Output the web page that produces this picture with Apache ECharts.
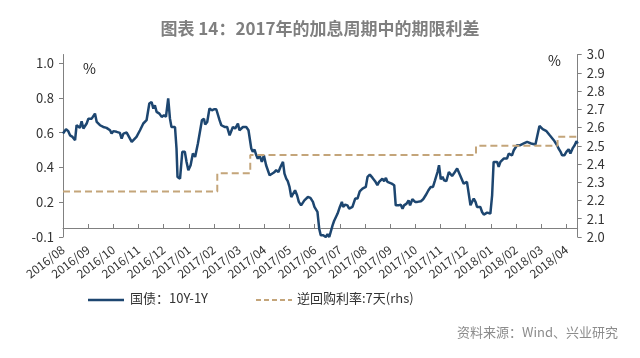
<!DOCTYPE html>
<html><head><meta charset="utf-8">
<script src="https://cdn.jsdelivr.net/npm/echarts@6/dist/echarts.min.js"></script>
<style>html,body{margin:0;padding:0;background:#fff}#c{width:640px;height:358px}</style>
</head><body><div id="c"></div>
<script>
// Month tick labels (x positions are month indices, 0 = 2016/08)
const monthLabels = ['2016/08','2016/09','2016/10','2016/11','2016/12','2017/01','2017/02','2017/03','2017/04','2017/05','2017/06','2017/07','2017/08','2017/09','2017/10','2017/11','2017/12','2018/01','2018/02','2018/03','2018/04'];
const monthTicks = monthLabels.map((_, i) => i);

// 国债 10Y-1Y spread (%), left axis
const spreadX = [0,0.12,0.21,0.28,0.38,0.48,0.54,0.61,0.67,0.74,0.81,0.87,0.94,1.01,1.07,1.14,1.20,1.27,1.34,1.47,1.60,1.73,1.87,1.93,2.00,2.13,2.26,2.33,2.40,2.53,2.59,2.73,2.79,2.92,3.06,3.19,3.32,3.43,3.52,3.59,3.65,3.72,3.83,3.92,4.01,4.09,4.12,4.18,4.25,4.31,4.45,4.51,4.55,4.65,4.74,4.84,4.91,4.98,
5.07,5.16,5.25,5.36,5.43,5.52,5.60,5.65,5.73,5.82,5.92,6.00,6.09,6.16,6.22,6.29,6.35,6.42,6.52,6.62,6.68,6.75,6.84,6.95,7.01,7.08,7.15,7.28,7.37,7.48,7.54,7.61,7.68,7.74,7.81,7.90,7.98,8.07,8.14,8.21,8.27,8.38,8.47,8.56,8.64,8.74,8.80,8.87,8.93,9.00,9.07,9.13,9.22,9.30,9.37,9.46,9.53,9.59,9.73,9.83,9.93,9.99,10.06,
10.11,10.18,10.24,10.34,10.44,10.51,10.58,10.64,10.71,10.77,10.84,10.91,11.00,11.08,11.13,11.21,11.30,11.37,11.50,11.61,11.70,11.79,11.90,12.03,12.10,12.19,12.30,12.40,12.49,12.56,12.63,12.69,12.76,12.83,12.89,12.96,13.06,13.16,13.22,13.33,13.42,13.49,13.55,13.65,13.73,13.79,13.88,13.99,14.08,14.22,14.31,14.41,14.52,14.61,14.70,14.78,14.88,14.94,15.01,15.08,15.14,
15.23,15.33,15.39,15.46,15.53,15.59,15.66,15.72,15.79,15.86,15.92,15.99,16.05,16.12,16.19,16.25,16.32,16.39,16.45,16.52,16.58,16.65,16.72,16.78,16.85,16.98,17.05,17.11,17.18,17.25,17.31,17.38,17.44,17.51,17.58,17.64,17.71,17.78,17.84,17.91,17.97,18.04,18.17,18.31,18.44,18.60,18.77,18.83,18.93,18.99,19.06,19.13,19.21,19.26,19.34,19.39,19.50,19.56,19.63,19.69,19.76,19.83,19.92,20.00,20.09,20.16,20.20,20.26,20.33,20.40,20.45];
const spreadY = [0.595,0.620,0.609,0.585,0.576,0.557,0.643,0.653,0.628,0.666,0.624,0.614,0.653,0.681,0.672,0.681,0.691,0.710,0.662,0.643,0.633,0.628,0.614,0.595,0.609,0.605,0.599,0.566,0.595,0.601,0.585,0.547,0.557,0.576,0.614,0.653,0.672,0.768,0.777,0.739,0.758,0.720,0.710,0.691,0.701,0.691,0.681,0.797,0.681,0.633,0.633,0.509,0.346,0.336,0.490,0.490,0.432,0.384,
0.413,0.480,0.461,0.538,0.538,0.672,0.681,0.647,0.662,0.739,0.729,0.735,0.735,0.729,0.672,0.643,0.643,0.633,0.633,0.585,0.585,0.633,0.624,0.653,0.614,0.624,0.633,0.633,0.614,0.509,0.490,0.503,0.470,0.451,0.470,0.432,0.470,0.413,0.403,0.355,0.365,0.371,0.384,0.374,0.403,0.432,0.365,0.336,0.321,0.288,0.230,0.221,0.269,0.240,0.202,0.182,0.182,0.211,0.230,0.225,0.202,0.173,0.163,
0.144,0.048,0.010,0.010,0.000,0.016,0.000,0.010,0.067,0.092,0.087,0.135,0.173,0.202,0.173,0.186,0.182,0.163,0.173,0.221,0.221,0.263,0.278,0.288,0.346,0.359,0.340,0.321,0.298,0.317,0.326,0.336,0.321,0.340,0.317,0.307,0.307,0.298,0.182,0.182,0.186,0.163,0.182,0.192,0.211,0.182,0.217,0.202,0.202,0.206,0.217,0.240,0.269,0.288,0.288,0.326,0.374,0.413,0.332,0.346,0.326,
0.321,0.374,0.384,0.351,0.365,0.355,0.394,0.384,0.351,0.355,0.307,0.298,0.317,0.307,0.182,0.202,0.221,0.202,0.173,0.163,0.173,0.144,0.129,0.125,0.140,0.135,0.240,0.432,0.422,0.432,0.403,0.432,0.422,0.451,0.461,0.451,0.480,0.480,0.470,0.499,0.499,0.528,0.528,0.538,0.547,0.538,0.532,0.538,0.639,0.628,0.620,0.624,0.609,0.620,0.585,0.576,0.557,0.547,0.528,0.509,0.493,0.470,0.470,0.490,0.505,0.480,0.474,0.513,0.528,0.551,0.538];

// 逆回购利率 7天 (%), right axis, step changes
const repoX = [0, 6.13, 7.44, 16.41, 19.65, 20.45];
const repoY = [2.25, 2.35, 2.45, 2.50, 2.55, 2.55];

// Axis ticks
const leftTicks = [0, 0.2, 0.4, 0.6, 0.8, 1.0];
const leftTickLabels = ['-0.1', '0.2', '0.4', '0.6', '0.8', '1.0'];
const rightTicks = [2.0, 2.1, 2.2, 2.3, 2.4, 2.5, 2.6, 2.7, 2.8, 2.9, 3.0];

const seriesNames = ['国债：10Y-1Y', '逆回购利率:7天(rhs)'];
const BLUE = '#1d4670', TAN = '#c4a57a';

const xMax = 20.45;
const n = Math.min(spreadX.length, spreadY.length);
const spreadData = [];
for (let i = 0; i < n; i++) spreadData.push([spreadX[i], spreadY[i]]);
const repoData = repoX.map((x, i) => [x, repoY[i]]);

const FONT = '"Noto Sans CJK SC", "Noto Sans", sans-serif';
const axisColor = '#808080';
const chart = echarts.init(document.getElementById('c'), null, {renderer: 'canvas'});
chart.setOption({
  animation: false,
  backgroundColor: '#ffffff',
  textStyle: {fontFamily: FONT},
  title: {
    text: '图表 14：2017年的加息周期中的期限利差',
    left: 'center', top: 15,
    textStyle: {fontSize: 17, color: '#7f7f7f', fontWeight: 'bold', fontFamily: FONT}
  },
  grid: [
    {left: 63, right: 62.3, top: 54.5, height: 182.5},
    {left: 63, right: 62.3, top: 54.5, height: 173.5}
  ],
  xAxis: [
    {gridIndex: 0, type: 'value', min: 0, max: xMax, show: false},
    {gridIndex: 1, type: 'value', min: 0, max: xMax,
      axisLine: {show: true, lineStyle: {color: axisColor, width: 1}},
      axisTick: {show: true, inside: true, length: 4, lineStyle: {color: axisColor}, customValues: monthTicks},
      axisLabel: {show: true, customValues: monthTicks, rotate: 38, margin: 20, fontSize: 12, color: '#333',
        formatter: v => monthLabels[Math.round(v)] || ''},
      splitLine: {show: false}
    }
  ],
  yAxis: [
    {gridIndex: 0, type: 'value', position: 'left', min: 0, max: 1.05,
      axisLine: {show: true, lineStyle: {color: axisColor}},
      axisTick: {show: true, length: 4, lineStyle: {color: axisColor}, customValues: leftTicks},
      axisLabel: {customValues: leftTicks, margin: 9, fontSize: 13, color: '#333',
        formatter: v => leftTickLabels[leftTicks.findIndex(t => Math.abs(t - v) < 1e-6)] || ''},
      splitLine: {show: false}
    },
    {gridIndex: 0, type: 'value', position: 'right', min: 2.0, max: 3.0, interval: 0.1,
      axisLine: {show: true, lineStyle: {color: axisColor}},
      axisTick: {show: true, length: 4, lineStyle: {color: axisColor}, customValues: rightTicks},
      axisLabel: {customValues: rightTicks, margin: 9, fontSize: 13, color: '#333', formatter: v => v.toFixed(1)},
      splitLine: {show: false}
    },
    {gridIndex: 1, type: 'value', min: 0, max: 1, show: false}
  ],
  graphic: [
    {type: 'text', left: 83, top: 62, style: {text: '%', fontSize: 14, fill: '#222', fontFamily: FONT}},
    {type: 'text', left: 548, top: 54, style: {text: '%', fontSize: 14, fill: '#222', fontFamily: FONT}},
    {type: 'line', shape: {x1: 88, y1: 300, x2: 124, y2: 300}, style: {stroke: BLUE, lineWidth: 2.5}},
    {type: 'text', left: 130, top: 292, style: {text: seriesNames[0], fontSize: 13, fill: '#333', fontFamily: FONT}},
    {type: 'line', shape: {x1: 256, y1: 300, x2: 292, y2: 300}, style: {stroke: TAN, lineWidth: 2, lineDash: [5, 3]}},
    {type: 'text', left: 297, top: 292, style: {text: seriesNames[1], fontSize: 13, fill: '#333', fontFamily: FONT}},
    {type: 'text', right: 22, top: 326, style: {text: '资料来源：Wind、兴业研究', fontSize: 13, fill: '#8c8c8c', fontFamily: FONT}}
  ],
  series: [
    {name: seriesNames[0], type: 'line', xAxisIndex: 0, yAxisIndex: 0, data: spreadData,
      symbol: 'none', lineStyle: {color: BLUE, width: 2.5}, itemStyle: {color: BLUE}, z: 2},
    {name: seriesNames[1], type: 'line', step: 'end', xAxisIndex: 0, yAxisIndex: 1, data: repoData,
      symbol: 'none', lineStyle: {color: TAN, width: 2, type: [7, 4]}, itemStyle: {color: TAN}, z: 3}
  ]
});
</script></body></html>
